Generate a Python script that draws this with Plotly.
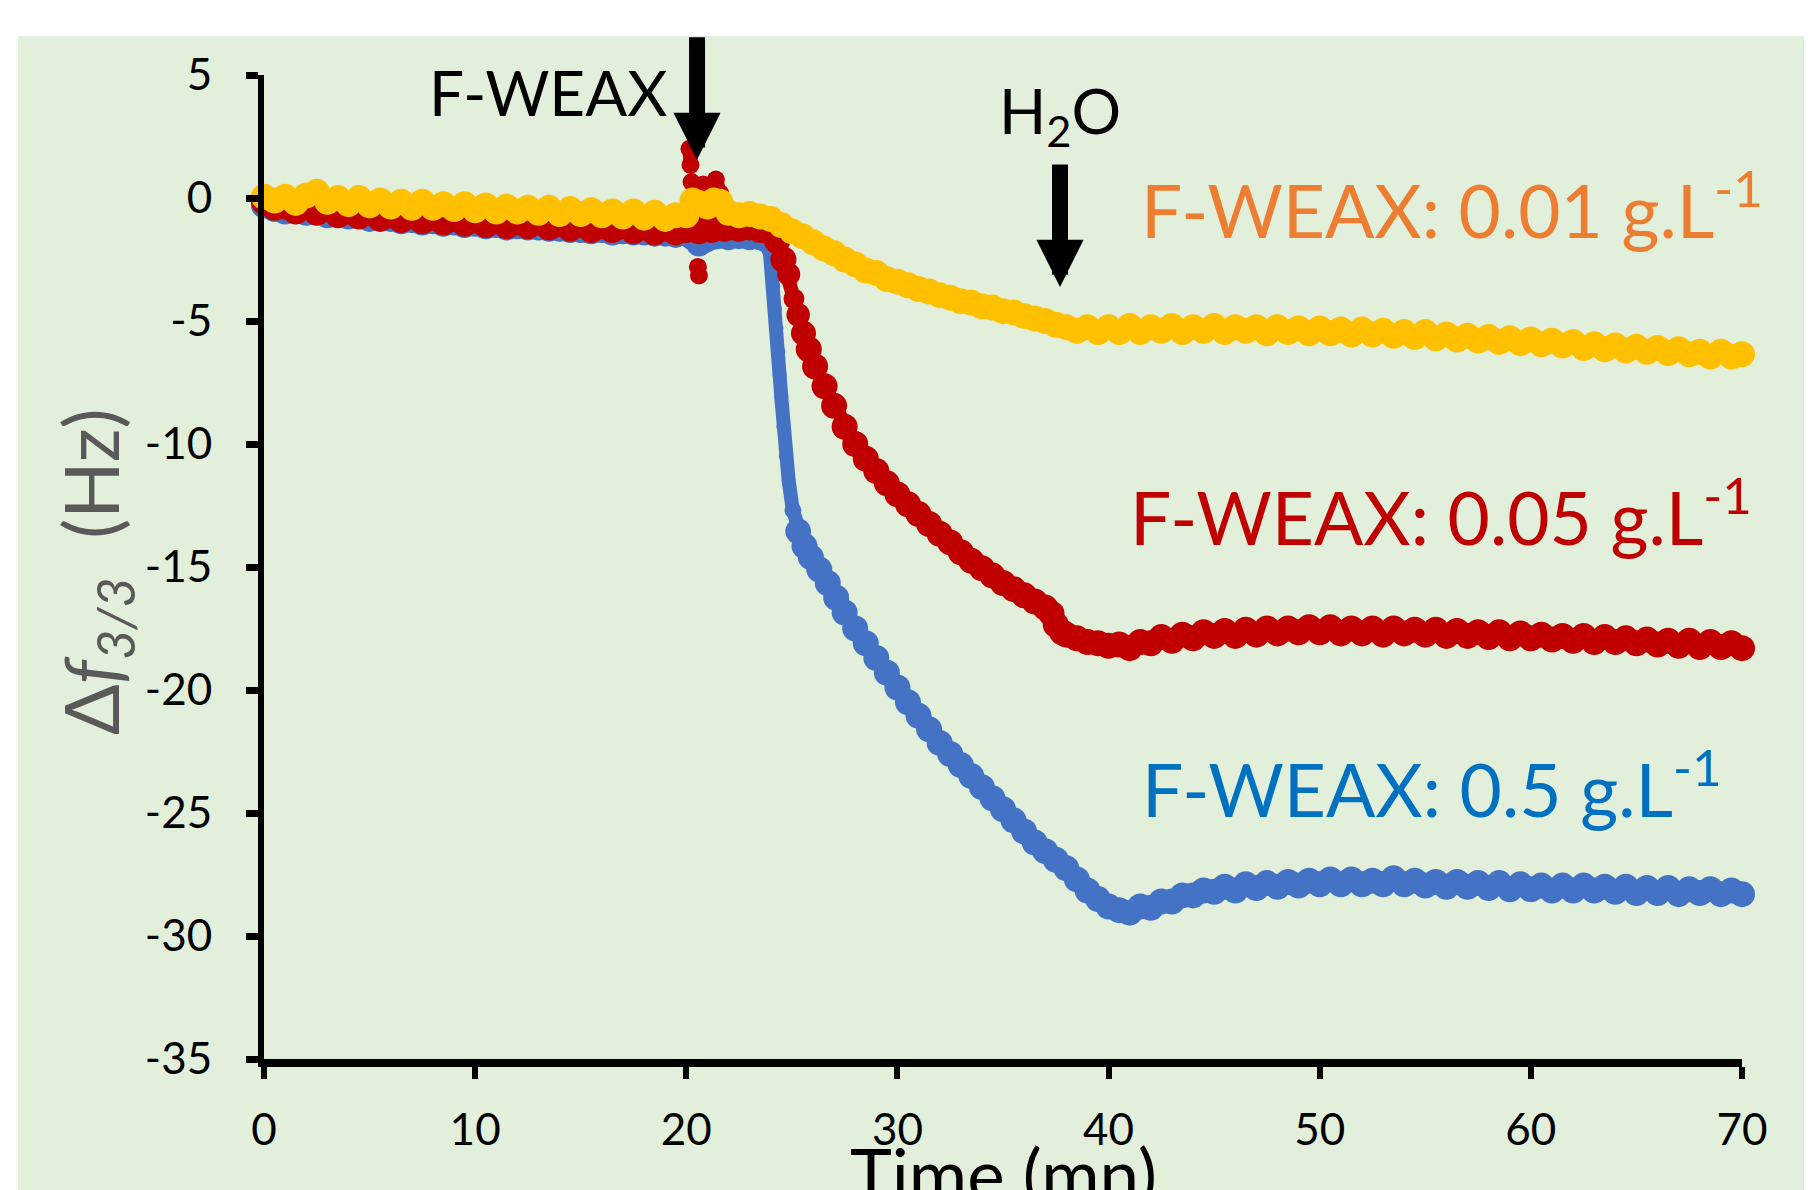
import plotly.graph_objects as go

# ---------------- data ----------------
yellow_t = [0, 0.5, 1, 1.5, 2, 2.5, 3, 3.5, 4, 4.5, 5, 5.5, 6, 6.5, 7, 7.5, 8, 8.5, 9, 9.5,
            10, 10.5, 11, 11.5, 12, 12.5, 13, 13.5, 14, 14.5, 15, 15.5, 16, 16.5, 17, 17.5, 18, 18.5, 19, 19.5,
            20, 20.3, 20.6, 21, 21.3, 21.6, 22, 22.5, 23, 23.5, 24, 24.5, 25, 25.5, 26, 26.5, 27, 27.5, 28, 28.5,
            29, 29.5, 30, 30.5, 31, 31.5, 32, 32.5, 33, 33.5, 34, 34.5, 35, 35.5, 36, 36.5, 37, 37.5, 38, 38.5,
            39, 39.5, 40, 40.5, 41, 41.5, 42, 42.5, 43, 43.5, 44, 44.5, 45, 45.5, 46, 46.5, 47, 47.5, 48, 48.5,
            49, 49.5, 50, 50.5, 51, 51.5, 52, 52.5, 53, 53.5, 54, 54.5, 55, 55.5, 56, 56.5, 57, 57.5, 58, 58.5,
            59, 59.5, 60, 60.5, 61, 61.5, 62, 62.5, 63, 63.5, 64, 64.5, 65, 65.5, 66, 66.5, 67, 67.5, 68, 68.5,
            69, 69.5, 70]
yellow_df = [0.05, -0.1, 0.05, -0.2, 0.1, 0.25, -0.15, 0.0, -0.25, 0.0, -0.3, -0.1, -0.35, -0.15, -0.4, -0.15, -0.4, -0.25, -0.45, -0.25,
             -0.5, -0.3, -0.55, -0.35, -0.55, -0.4, -0.6, -0.4, -0.65, -0.45, -0.65, -0.5, -0.7, -0.55, -0.75, -0.55, -0.8, -0.6, -0.85, -0.7,
             -0.7, -0.1, -0.2, -0.35, -0.1, -0.15, -0.6, -0.7, -0.65, -0.75, -0.85, -1.1, -1.35, -1.55, -1.8, -2.05, -2.25, -2.5, -2.7, -2.95,
             -3.05, -3.3, -3.4, -3.55, -3.7, -3.8, -3.95, -4.05, -4.2, -4.25, -4.4, -4.45, -4.6, -4.65, -4.8, -4.9, -5.0, -5.15, -5.25, -5.4,
             -5.25, -5.45, -5.25, -5.45, -5.2, -5.45, -5.25, -5.4, -5.2, -5.45, -5.25, -5.4, -5.2, -5.45, -5.25, -5.4, -5.25, -5.5, -5.25, -5.45,
             -5.3, -5.5, -5.3, -5.5, -5.35, -5.55, -5.35, -5.55, -5.4, -5.6, -5.45, -5.65, -5.45, -5.7, -5.55, -5.75, -5.6, -5.8, -5.65, -5.85,
             -5.7, -5.9, -5.75, -5.95, -5.8, -6.0, -5.85, -6.1, -5.95, -6.15, -6.0, -6.2, -6.05, -6.25, -6.1, -6.3, -6.15, -6.35, -6.25, -6.45,
             -6.25, -6.45, -6.35]

red_t = [0, 0.5, 1, 1.5, 2, 2.5, 3, 3.5, 4, 4.5, 5, 5.5, 6, 6.5, 7, 7.5, 8, 8.5, 9, 9.5,
         10, 10.5, 11, 11.5, 12, 12.5, 13, 13.5, 14, 14.5, 15, 15.5, 16, 16.5, 17, 17.5, 18, 18.5, 19, 19.5,
         20, 20.3, 20.6, 20.9, 21.2, 21.5, 21.8, 22, 22.5, 23, 23.5, 24, 24.3, 24.6, 24.85, 25.1, 25.3, 25.55, 25.8, 26.1,
         26.55, 27, 27.5, 28, 28.5, 29, 29.5, 30, 30.5, 31, 31.5, 32, 32.5, 33, 33.5, 34, 34.5, 35, 35.5, 36,
         36.5, 37, 37.3, 37.5, 37.8, 38, 38.5, 39, 39.5, 40, 40.5, 41, 41.5, 42, 42.5, 43, 43.5, 44, 44.5, 45,
         45.5, 46, 46.5, 47, 47.5, 48, 48.5, 49, 49.5, 50, 50.5, 51, 51.5, 52, 52.5, 53, 53.5, 54, 54.5, 55,
         55.5, 56, 56.5, 57, 57.5, 58, 58.5, 59, 59.5, 60, 60.5, 61, 61.5, 62, 62.5, 63, 63.5, 64, 64.5, 65,
         65.5, 66, 66.5, 67, 67.5, 68, 68.5, 69, 69.5, 70]
red_df = [-0.15, -0.4, -0.35, -0.55, -0.35, -0.6, -0.45, -0.7, -0.55, -0.75, -0.6, -0.85, -0.7, -0.9, -0.75, -0.95, -0.8, -1.0, -0.85, -1.05,
          -0.9, -1.1, -0.95, -1.15, -1.0, -1.15, -1.0, -1.2, -1.05, -1.25, -1.1, -1.3, -1.15, -1.3, -1.15, -1.35, -1.2, -1.4, -1.25, -1.4,
          -1.3, -1.25, -1.35, -1.2, -1.3, -1.2, -1.25, -1.2, -1.25, -1.2, -1.3, -1.4, -1.75, -2.5, -3.1, -4.1, -4.75, -5.5, -6.15, -6.85,
          -7.65, -8.45, -9.3, -10.0, -10.6, -11.1, -11.6, -12.05, -12.45, -12.85, -13.25, -13.65, -14.0, -14.4, -14.75, -15.05, -15.35, -15.65, -15.9, -16.15,
          -16.4, -16.65, -16.9, -17.35, -17.65, -17.75, -17.9, -18.05, -18.1, -18.2, -18.15, -18.3, -18.05, -18.1, -17.85, -18.0, -17.75, -17.9, -17.65, -17.8,
          -17.6, -17.8, -17.55, -17.75, -17.5, -17.7, -17.5, -17.65, -17.45, -17.65, -17.45, -17.7, -17.5, -17.7, -17.5, -17.75, -17.5, -17.7, -17.55, -17.75,
          -17.55, -17.8, -17.6, -17.8, -17.65, -17.85, -17.65, -17.9, -17.7, -17.9, -17.75, -17.95, -17.8, -18.0, -17.8, -18.05, -17.85, -18.05, -17.9, -18.1,
          -17.95, -18.15, -18.0, -18.2, -18.0, -18.25, -18.05, -18.25, -18.1, -18.3]
# short bursts of red points at the injection (separate segments)
red_burst1_t = [20.15, 20.2]
red_burst1_df = [2.0, 1.35]
red_burst2_t = [20.25, 20.5, 20.8, 21.1, 21.4, 21.6]
red_burst2_df = [0.65, 0.45, 0.55, 0.45, 0.75, 0.2]
red_burst3_t = [20.55, 20.6]
red_burst3_df = [-2.8, -3.15]

blue_t = [0, 0.5, 1, 1.5, 2, 2.5, 3, 3.5, 4, 4.5, 5, 5.5, 6, 6.5, 7, 7.5, 8, 8.5, 9, 9.5,
          10, 10.5, 11, 11.5, 12, 12.5, 13, 13.5, 14, 14.5, 15, 15.5, 16, 16.5, 17, 17.5, 18, 18.5, 19, 19.5,
          20, 20.3, 20.6, 20.9, 21.2, 21.5, 22, 22.5, 23, 23.5, 23.8, 23.95, 24.03, 24.12, 24.2, 24.27, 24.36, 24.42, 24.5, 24.6,
          24.72, 24.85, 25.05, 25.3, 25.6, 25.9, 26.3, 26.7, 27.1, 27.5, 28, 28.5, 29, 29.5, 30, 30.5, 31, 31.5, 32, 32.5,
          33, 33.5, 34, 34.5, 35, 35.5, 36, 36.5, 37, 37.5, 38, 38.5, 39, 39.5, 40, 40.5, 41, 41.5, 42, 42.5,
          43, 43.5, 44, 44.5, 45, 45.5, 46, 46.5, 47, 47.5, 48, 48.5, 49, 49.5, 50, 50.5, 51, 51.5, 52, 52.5,
          53, 53.5, 54, 54.5, 55, 55.5, 56, 56.5, 57, 57.5, 58, 58.5, 59, 59.5, 60, 60.5, 61, 61.5, 62, 62.5,
          63, 63.5, 64, 64.5, 65, 65.5, 66, 66.5, 67, 67.5, 68, 68.5, 69, 69.5, 70]
blue_df = [-0.3, -0.45, -0.55, -0.5, -0.6, -0.55, -0.7, -0.65, -0.75, -0.7, -0.85, -0.8, -0.85, -0.95, -0.9, -1.0, -0.95, -1.05, -1.0, -1.1,
           -1.05, -1.15, -1.1, -1.2, -1.15, -1.2, -1.2, -1.25, -1.25, -1.3, -1.3, -1.35, -1.3, -1.4, -1.35, -1.4, -1.4, -1.45, -1.45, -1.5,
           -1.45, -1.6, -1.85, -1.7, -1.6, -1.55, -1.6, -1.55, -1.6, -1.6, -1.7, -2.1, -2.75, -3.6, -4.5, -5.3, -6.25, -7.2, -8.1, -9.3,
           -10.5, -11.5, -12.7, -13.55, -14.15, -14.6, -15.1, -15.65, -16.25, -16.85, -17.5, -18.1, -18.7, -19.3, -19.9, -20.5, -21.05, -21.6, -22.15, -22.6,
           -23.05, -23.5, -23.95, -24.4, -24.85, -25.3, -25.75, -26.2, -26.55, -26.9, -27.25, -27.7, -28.15, -28.5, -28.8, -28.95, -29.05, -28.8, -28.85, -28.6,
           -28.6, -28.35, -28.35, -28.15, -28.2, -28.0, -28.15, -27.9, -28.05, -27.85, -28.0, -27.8, -27.95, -27.75, -27.9, -27.7, -27.9, -27.7, -27.9, -27.75,
           -27.9, -27.65, -27.9, -27.75, -27.95, -27.8, -28.0, -27.8, -28.0, -27.85, -28.05, -27.85, -28.1, -27.9, -28.1, -27.95, -28.15, -27.95, -28.15, -27.95,
           -28.15, -28.0, -28.2, -28.0, -28.25, -28.05, -28.25, -28.05, -28.3, -28.1, -28.25, -28.1, -28.3, -28.15, -28.3]

x_ticks = [0, 10, 20, 30, 40, 50, 60, 70]
y_ticks = [5, 0, -5, -10, -15, -20, -25, -30, -35]
X_RANGE = [0, 70]
Y_RANGE = [-35, 5]

# ---------------- layout helpers ----------------
OFF = 8                      # page body margin of the html page
W, H = 1812 - OFF, 1190 - OFF
L, T = 264 - OFF, 75 - OFF
R = W - (1742 - OFF)
B = H - (1059 - OFF)
PW, PH = W - L - R, H - T - B
FONT = "Lato"


def fx(s):   # screen pixel -> paper fraction
    return (s - OFF - L) / PW


def fy(s):
    return (H - B - (s - OFF)) / PH


PX_X = PW / (X_RANGE[1] - X_RANGE[0])
PX_Y = PH / (Y_RANGE[1] - Y_RANGE[0])
BIG, SMALL = 26, 14


def marker_sizes(ts, ds):
    """Dots look thicker where the trace is flat (noise band), thin where it is steep."""
    n = len(ts)
    out = []
    for i in range(n):
        a, b = max(i - 1, 0), min(i + 1, n - 1)
        dx = (ts[b] - ts[a]) * PX_X
        dy = (ds[b] - ds[a]) * PX_Y
        s = abs(dy) / dx if dx else 99
        k = min(max((6 - s) / 3, 0), 1)
        out.append(SMALL + (BIG - SMALL) * k)
    return out


BLUE, RED, YELLOW = "#4472C4", "#C00000", "#FFC000"
LW = 14


def mk(color, size):
    return dict(color=color, size=size, opacity=1, line=dict(width=0))


fig = go.Figure()
fig.add_trace(go.Scatter(x=blue_t, y=blue_df, mode="lines+markers", cliponaxis=False,
                         line=dict(color=BLUE, width=LW),
                         marker=mk(BLUE, marker_sizes(blue_t, blue_df)),
                         showlegend=False, hoverinfo="skip"))
fig.add_trace(go.Scatter(x=red_t, y=red_df, mode="lines+markers", cliponaxis=False,
                         line=dict(color=RED, width=LW),
                         marker=mk(RED, marker_sizes(red_t, red_df)),
                         showlegend=False, hoverinfo="skip"))
bx, by = [], []
for sx, sy in ((red_burst1_t, red_burst1_df), (red_burst2_t, red_burst2_df), (red_burst3_t, red_burst3_df)):
    if bx:
        bx.append(None)
        by.append(None)
    bx += sx
    by += sy
fig.add_trace(go.Scatter(x=bx, y=by, mode="lines+markers", cliponaxis=False,
                         line=dict(color=RED, width=LW), marker=mk(RED, 18),
                         showlegend=False, hoverinfo="skip"))
fig.add_trace(go.Scatter(x=yellow_t, y=yellow_df, mode="lines+markers", cliponaxis=False,
                         line=dict(color=YELLOW, width=LW),
                         marker=mk(YELLOW, marker_sizes(yellow_t, yellow_df)),
                         showlegend=False, hoverinfo="skip"))

S_LBL = 73
annotations = [
    # axis titles
    dict(text="Time (mn)", xref="paper", yref="paper", x=fx(1003), y=fy(1129),
         xanchor="center", yanchor="top", showarrow=False,
         font=dict(family=FONT, size=71, color="black")),
    dict(text="Δ<i>f</i><sub><i>3/3</i></sub>  (Hz)", xref="paper", yref="paper",
         x=fx(95), y=fy(572), xanchor="center", yanchor="middle", textangle=-90,
         showarrow=False, font=dict(family=FONT, size=75, color="#595959")),
    # injection labels
    dict(text="F-WEAX", xref="paper", yref="paper", x=fx(427), y=fy(117 + 0.213 * 62 + 1),
         xanchor="left", yanchor="bottom", showarrow=False,
         font=dict(family=FONT, size=62, color="black")),
    dict(text="H<sub>2</sub>O", xref="paper", yref="paper", x=fx(1060), y=fy(133 - 0.987 * 62 - 1),
         xanchor="center", yanchor="top", showarrow=False,
         font=dict(family=FONT, size=62, color="black")),
    # series labels
    dict(text="F-WEAX: 0.01 g.L<sup>-1</sup>", xref="paper", yref="paper",
         x=fx(1139), y=fy(239 + 0.213 * S_LBL + 1), xanchor="left", yanchor="bottom",
         showarrow=False, font=dict(family=FONT, size=S_LBL, color="#ED7D31")),
    dict(text="F-WEAX: 0.05 g.L<sup>-1</sup>", xref="paper", yref="paper",
         x=fx(1128), y=fy(546 + 0.213 * S_LBL + 1), xanchor="left", yanchor="bottom",
         showarrow=False, font=dict(family=FONT, size=S_LBL, color="#C00000")),
    dict(text="F-WEAX: 0.5 g.L<sup>-1</sup>", xref="paper", yref="paper",
         x=fx(1140), y=fy(818 + 0.213 * S_LBL + 1), xanchor="left", yanchor="bottom",
         showarrow=False, font=dict(family=FONT, size=S_LBL, color="#0070C0")),
    # arrows
    dict(text="", xref="x", yref="y", x=20.51, y=1.55, ax=0, ay=-124, showarrow=True,
         arrowhead=2, arrowsize=0.59, arrowwidth=16, arrowcolor="black", standoff=0),
    dict(text="", xref="x", yref="y", x=37.7, y=-3.62, ax=0, ay=-124, showarrow=True,
         arrowhead=2, arrowsize=0.59, arrowwidth=16, arrowcolor="black", standoff=0),
]

fig.update_layout(
    width=W, height=H,
    margin=dict(l=L, r=R, t=T, b=B, pad=0),
    paper_bgcolor="white",
    plot_bgcolor="rgba(0,0,0,0)",
    font=dict(family=FONT, color="black"),
    showlegend=False,
    annotations=annotations,
    shapes=[dict(type="rect", xref="paper", yref="paper", layer="below",
                 x0=fx(18), x1=fx(1812 + 20), y0=fy(1190 + 20), y1=fy(36),
                 fillcolor="#E2EFDA", line=dict(width=0))],
    xaxis=dict(range=X_RANGE, tickmode="array", tickvals=x_ticks, ticktext=[str(v) for v in x_ticks],
               showline=True, linecolor="black", linewidth=8, ticks="outside", ticklen=12,
               tickwidth=6, tickcolor="black", showgrid=False, zeroline=False,
               ticklabelstandoff=13,
               tickfont=dict(family=FONT, size=44, color="black")),
    yaxis=dict(range=Y_RANGE, tickmode="array", tickvals=y_ticks, ticktext=[str(v) for v in y_ticks],
               showline=True, linecolor="black", linewidth=6, ticks="outside", ticklen=12,
               tickwidth=7, tickcolor="black", showgrid=False, zeroline=False,
               ticklabelstandoff=25,
               tickfont=dict(family=FONT, size=44, color="black")),
)

fig.write_html("out.html")
